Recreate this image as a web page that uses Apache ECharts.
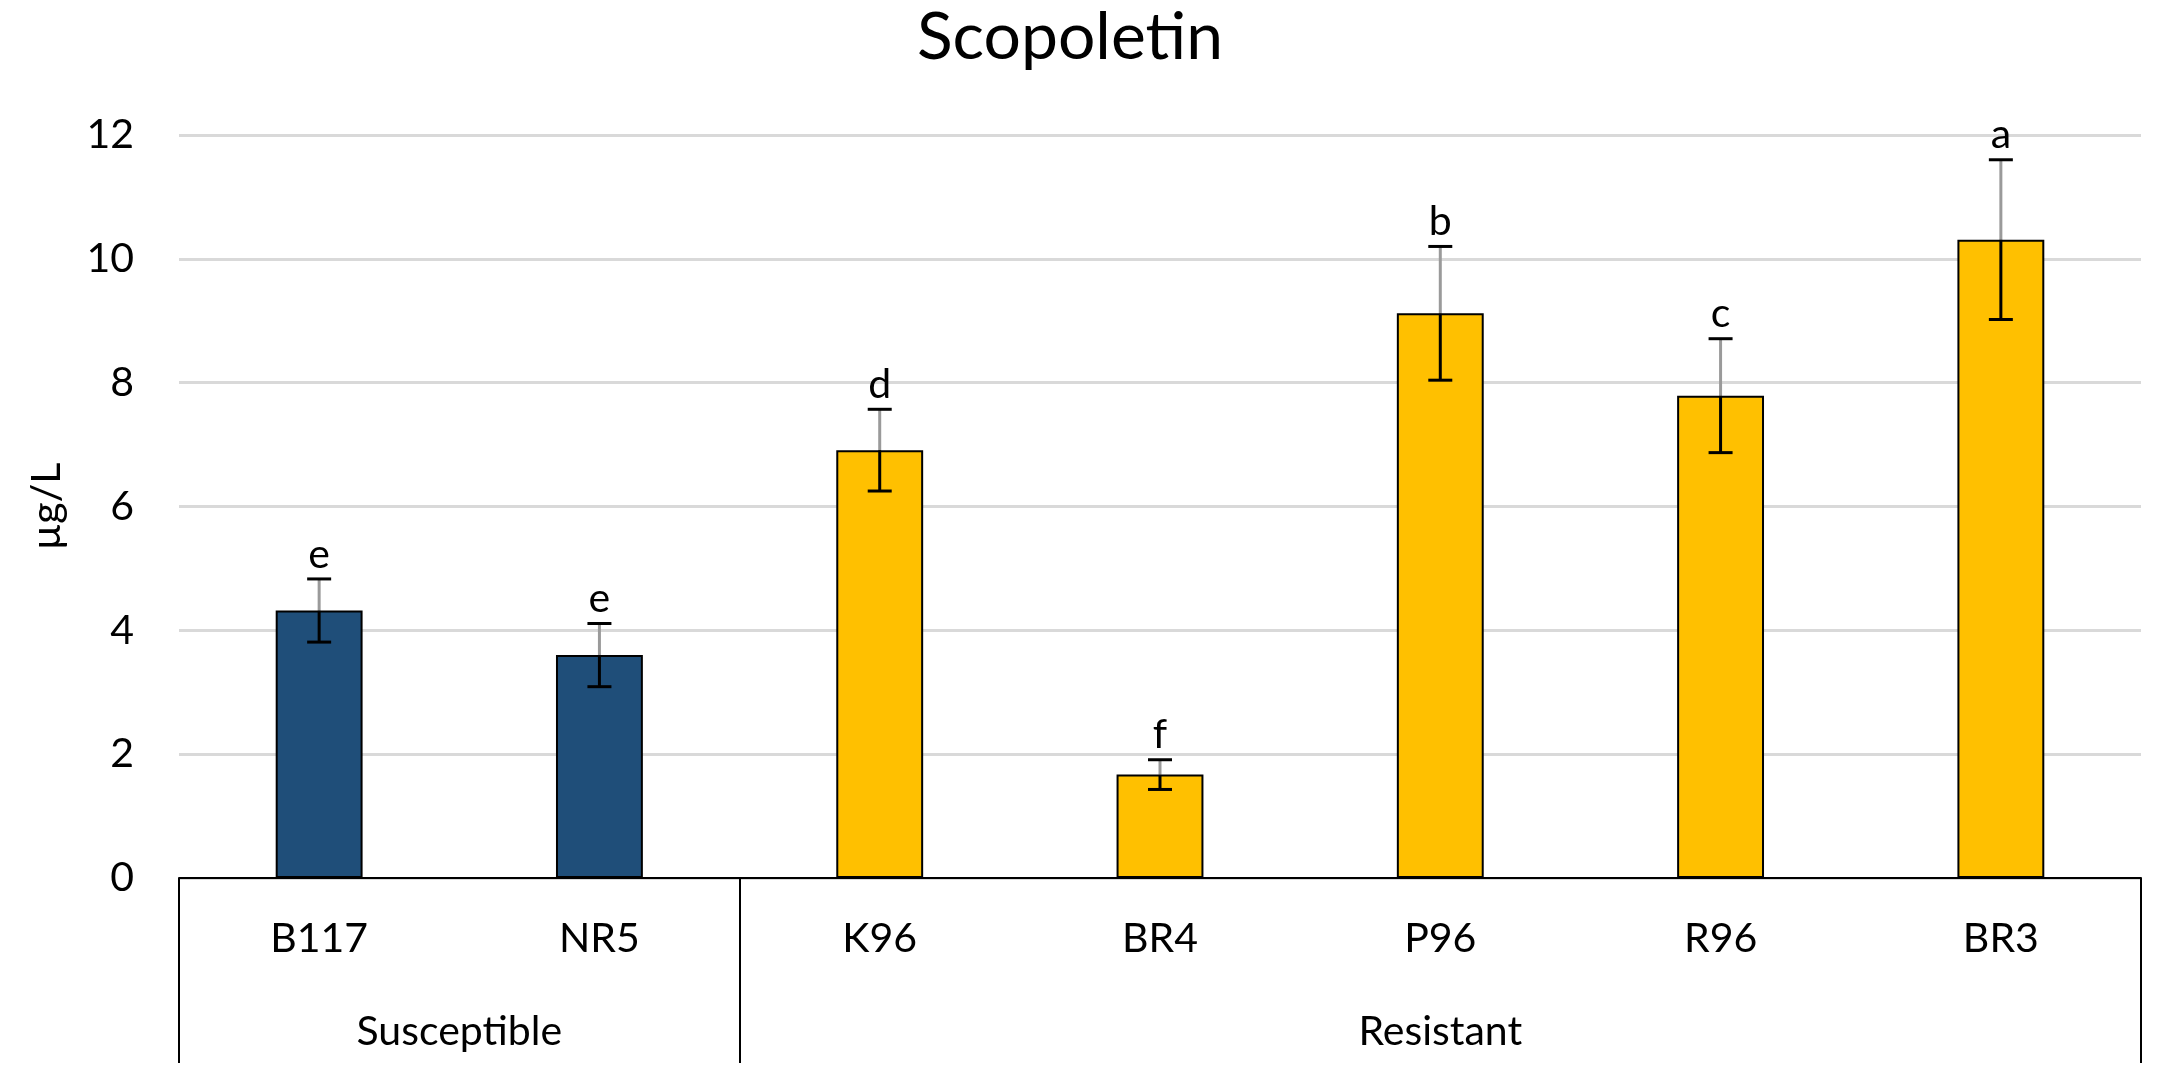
<!DOCTYPE html>
<html>
<head>
<meta charset="utf-8">
<script src="https://cdn.jsdelivr.net/npm/echarts@6/dist/echarts.min.js"></script>
<style>
html,body{margin:0;padding:0;background:#fff;}
#chart{width:2161px;height:1075px;}
</style>
</head>
<body>
<div id="chart"></div>
<script>
const categories = ['B117', 'NR5', 'K96', 'BR4', 'P96', 'R96', 'BR3'];
const values = [4.32, 3.60, 6.91, 1.67, 9.12, 7.79, 10.31];
const errors = [0.51, 0.51, 0.66, 0.24, 1.08, 0.92, 1.29];
const letters = ['e', 'e', 'd', 'f', 'b', 'c', 'a'];
const groupNames = ['Susceptible', 'Resistant'];
const groupSizes = [2, 5];
const yTicks = [0, 2, 4, 6, 8, 10, 12];

const FONT = 'Lato';
const groupColors = ['#1F4E79', '#FFC000'];

// group index for each category
const groupOf = [];
groupSizes.forEach((n, g) => { for (let k = 0; k < n; k++) groupOf.push(g); });
// boundaries and midpoints for the group axis
const bounds = [0];
groupSizes.forEach(n => bounds.push(bounds[bounds.length - 1] + n));
const mids = groupSizes.map((n, g) => bounds[g] + n / 2);

const chart = echarts.init(document.getElementById('chart'), null, { renderer: 'canvas' });

const option = {
  backgroundColor: '#ffffff',
  animation: false,
  title: {
    text: 'Scopoletin',
    left: 912,
    top: 0,
    textStyle: { fontFamily: FONT, fontSize: 66, fontWeight: 'normal', color: '#000' }
  },
  grid: { left: 179, right: 20, top: 135, bottom: 197, containLabel: false },
  xAxis: [
    {
      type: 'category',
      data: categories,
      axisLine: { show: true, lineStyle: { color: '#000', width: 2 } },
      axisTick: { show: false },
      axisLabel: { fontFamily: FONT, fontSize: 41, color: '#000', margin: 40 },
      splitLine: { show: false }
    },
    {
      type: 'value',
      min: 0,
      max: bounds[bounds.length - 1],
      position: 'bottom',
      axisLine: { show: false },
      splitLine: { show: false },
      axisTick: {
        show: true,
        customValues: bounds,
        length: 185,
        lineStyle: { color: '#000', width: 2 }
      },
      axisLabel: {
        customValues: mids,
        fontFamily: FONT, fontSize: 41, color: '#000', margin: 133,
        formatter: function (v) {
          const i = mids.findIndex(m => Math.abs(m - v) < 1e-6);
          return i >= 0 ? groupNames[i] : '';
        }
      }
    }
  ],
  yAxis: {
    type: 'value',
    min: yTicks[0],
    max: yTicks[yTicks.length - 1],
    interval: yTicks[1] - yTicks[0],
    name: 'µg/L',
    nameLocation: 'middle',
    nameRotate: 90,
    nameGap: 112,
    nameTextStyle: { fontFamily: FONT, fontSize: 41, color: '#000' },
    axisLine: { show: false },
    axisTick: { show: false },
    axisLabel: { fontFamily: FONT, fontSize: 41, color: '#000', margin: 45 },
    splitLine: { show: true, lineStyle: { color: '#D9D9D9', width: 3 } }
  },
  series: [
    {
      type: 'bar',
      xAxisIndex: 0,
      barWidth: '31%',
      data: values.map((v, i) => ({
        value: v,
        itemStyle: { color: groupColors[groupOf[i]], borderColor: '#000', borderWidth: 2 }
      })),
      z: 2
    },
    {
      type: 'custom',
      xAxisIndex: 0,
      z: 5,
      data: values.map((v, i) => [i, v, errors[i]]),
      renderItem: function (params, api) {
        const x = api.value(0);
        const v = api.value(1);
        const e = api.value(2);
        const letter = letters[params.dataIndex];
        const pTop = api.coord([x, v + e]);
        const pMid = api.coord([x, v]);
        const pBot = api.coord([x, v - e]);
        const half = 12;
        return {
          type: 'group',
          children: [
            { type: 'line', shape: { x1: pTop[0], y1: pTop[1], x2: pMid[0], y2: pMid[1] },
              style: { stroke: '#9A9A9A', lineWidth: 3 } },
            { type: 'line', shape: { x1: pMid[0], y1: pMid[1], x2: pBot[0], y2: pBot[1] },
              style: { stroke: '#000', lineWidth: 3 } },
            { type: 'line', shape: { x1: pTop[0] - half, y1: pTop[1], x2: pTop[0] + half, y2: pTop[1] },
              style: { stroke: '#000', lineWidth: 3 } },
            { type: 'line', shape: { x1: pBot[0] - half, y1: pBot[1], x2: pBot[0] + half, y2: pBot[1] },
              style: { stroke: '#000', lineWidth: 3 } },
            { type: 'text', x: pTop[0], y: pTop[1] - 4,
              style: { text: letter, fontFamily: FONT, fontSize: 41, fill: '#000',
                       align: 'center', verticalAlign: 'bottom' } }
          ]
        };
      }
    }
  ]
};

chart.setOption(option);
</script>
</body>
</html>
